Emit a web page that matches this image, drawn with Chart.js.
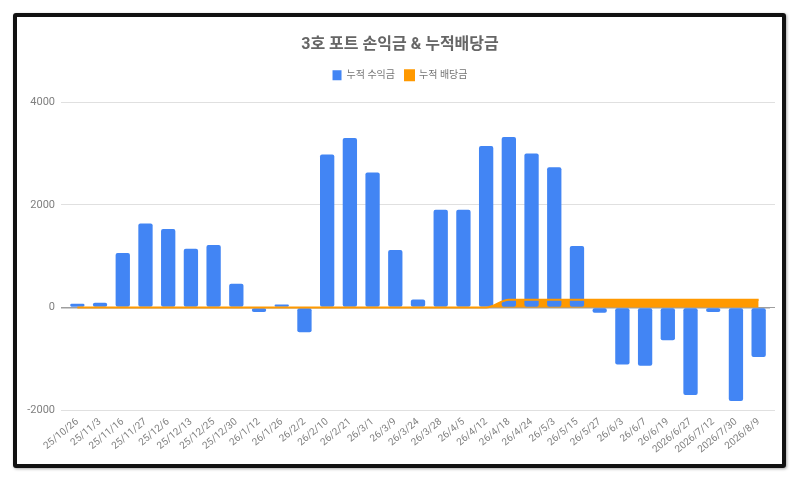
<!DOCTYPE html>
<html>
<head>
<meta charset="utf-8">
<script src="https://cdn.jsdelivr.net/npm/chart.js@4.4.1/dist/chart.umd.min.js"></script>
<style>
  html, body { margin: 0; padding: 0; background: #ffffff; }
  #wrap { position: relative; width: 800px; height: 481px; overflow: hidden; background: #fff; }
  #frame { position: absolute; left: 13px; top: 13px; width: 765px; height: 447px; border: 4px solid #111; border-radius: 3px; box-shadow: 1px 1px 3px rgba(0,0,0,0.35); background: #fff; }
  #c { position: absolute; left: 0; top: 0; }
</style>
</head>
<body>
<div id="wrap">
  <div id="frame"></div>
  <canvas id="c" width="800" height="481"></canvas>
</div>
<script>
const chartTitle = '3호 포트 손익금 & 누적배당금';
const seriesNames = ['누적 수익금', '누적 배당금'];
const categories = ['25/10/26','25/11/3','25/11/16','25/11/27','25/12/6','25/12/13','25/12/25','25/12/30','26/1/12','26/1/26','26/2/2','26/2/10','26/2/21','26/3/1','26/3/9','26/3/24','26/3/28','26/4/5','26/4/12','26/4/18','26/4/24','26/5/3','26/5/15','26/5/27','26/6/3','26/6/7','26/6/19','2026/6/27','2026/7/12','2026/7/30','2026/8/9'];
const profit = [70,90,1060,1635,1530,1145,1215,460,-90,55,-485,2980,3300,2630,1120,155,1905,1905,3145,3320,3000,2730,1195,-105,-1115,-1135,-640,-1710,-90,-1825,-965];
const dividend = [0,0,0,0,0,0,0,0,0,0,0,0,0,0,0,0,0,0,0,150,150,150,150,150,150,150,150,150,150,150,150];
const yTicks = [-2000, 0, 2000, 4000];

const FONT = "Roboto, 'Noto Sans CJK KR', 'Noto Sans', sans-serif";
const BLUE = '#4285f4';
const ORANGE = '#ff9900';

const legendMargin = {
  id: 'legendMargin',
  beforeInit(chart) {
    const fit = chart.legend.fit;
    chart.legend.fit = function () { fit.bind(this)(); this.height += 12; };
  }
};

new Chart(document.getElementById('c'), {
  data: {
    labels: categories,
    datasets: [
      {
        type: 'line',
        label: seriesNames[1],
        data: dividend,
        borderColor: ORANGE,
        backgroundColor: ORANGE,
        borderWidth: 2,
        pointRadius: 0,
        fill: 'origin',
        cubicInterpolationMode: 'monotone',
        order: 0
      },
      {
        type: 'bar',
        label: seriesNames[0],
        data: profit,
        backgroundColor: BLUE,
        borderWidth: 0,
        borderRadius: 2,
        borderSkipped: false,
        categoryPercentage: 1,
        barPercentage: 0.63,
        order: 1
      }
    ]
  },
  options: {
    responsive: false,
    animation: false,
    devicePixelRatio: 1,
    layout: { padding: { left: 0, right: 0, top: 0, bottom: 0 } },
    plugins: {
      filler: { drawTime: 'beforeDatasetsDraw' },
      title: {
        display: true,
        text: chartTitle,
        color: '#666666',
        font: { family: FONT, size: 16, weight: 'bold' },
        padding: { top: 35, bottom: 6 }
      },
      legend: {
        display: true,
        position: 'top',
        reverse: true,
        labels: {
          color: '#757575',
          font: { family: FONT, size: 10 },
          boxWidth: 9,
          boxHeight: 10,
          padding: 10
        }
      },
      tooltip: { enabled: false }
    },
    scales: {
      x: {
        grid: { display: false, drawTicks: false },
        border: { display: false },
        ticks: {
          color: '#808080',
          font: { family: FONT, size: 10 },
          minRotation: 40,
          maxRotation: 40,
          autoSkip: false,
          padding: 6
        },
        afterFit(scale) { scale.height = 71; }
      },
      y: {
        min: -2000,
        max: 4000,
        afterBuildTicks(scale) { scale.ticks = yTicks.map(v => ({ value: v })); },
        grid: {
          color: ctx => ctx.tick && ctx.tick.value === 0 ? '#9e9e9e' : '#e0e0e0',
          lineWidth: ctx => ctx.tick && ctx.tick.value === 0 ? 1.5 : 1,
          tickLength: 5,
          drawTicks: true
        },
        border: { display: false },
        ticks: {
          color: '#808080',
          font: { family: FONT, size: 11 },
          padding: 6,
          callback: v => String(v)
        },
        afterFit(scale) { scale.width = 66; }
      },
      y2: {
        position: 'right',
        min: -2000,
        max: 4000,
        afterBuildTicks(scale) { scale.ticks = yTicks.map(v => ({ value: v })); },
        grid: {
          drawOnChartArea: false,
          color: ctx => ctx.tick && ctx.tick.value === 0 ? '#9e9e9e' : '#e0e0e0',
          tickLength: 5,
          drawTicks: true
        },
        border: { display: false },
        ticks: { display: false },
        afterFit(scale) { scale.width = 30; }
      }
    }
  },
  plugins: [legendMargin]
});
</script>
</body>
</html>
